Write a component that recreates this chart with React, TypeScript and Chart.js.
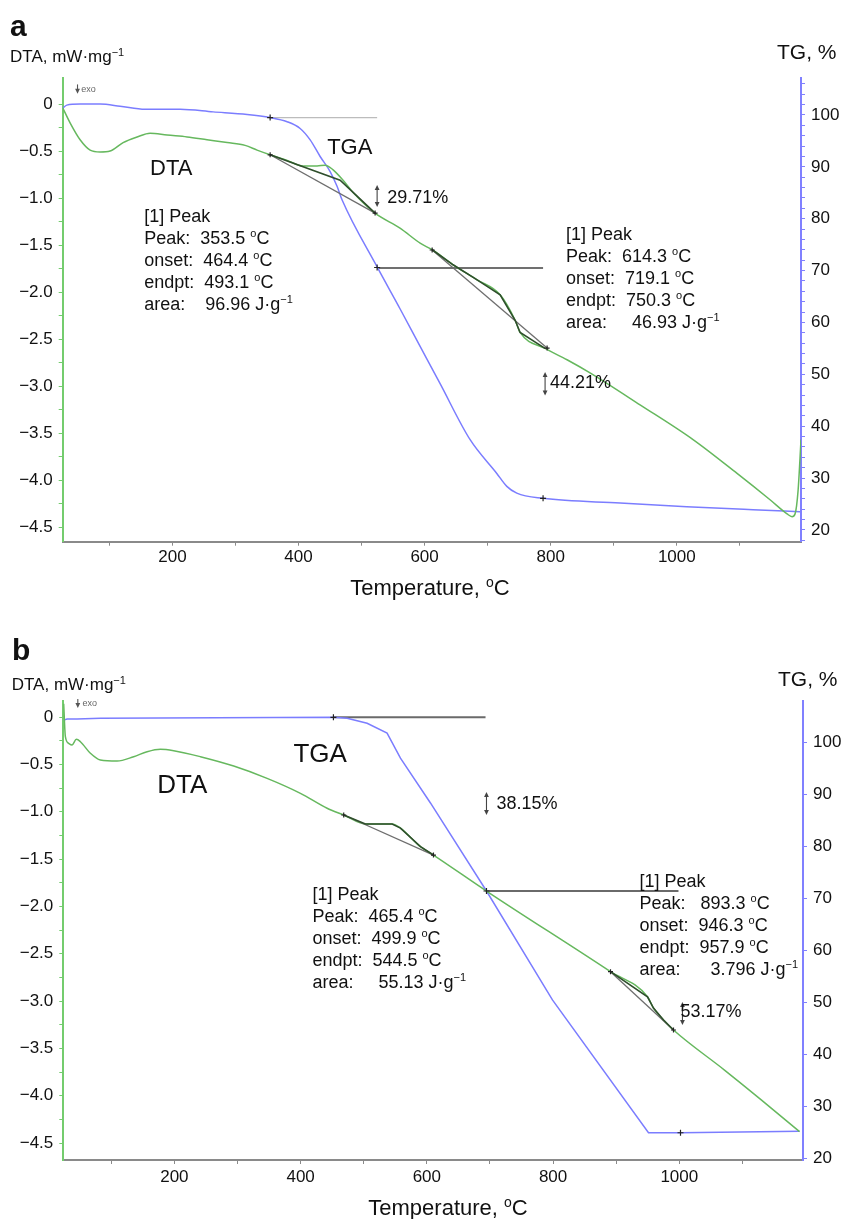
import React, { useEffect, useRef } from "react";
import { Chart, registerables } from "chart.js";
Chart.register(...registerables);

const FONT = '"Liberation Sans", Arial, Helvetica, sans-serif';
const GREEN_LINE = "#66b85e";
const GREEN_AXIS = "#74cc6e";
const BLUE_LINE = "#7b7dff";
const BLUE_AXIS = "#8080ff";
const GRAY_AXIS = "#8a8a8a";
const DARK_PEAK = "#2f4f2c";
const BASE_LINE = "#6e6e6e";
const TEXT = "#111";

// ---------- shared tick lists
const tempTicks = [100, 200, 300, 400, 500, 600, 700, 800, 900, 1000, 1100];
const tempLabels = [200, 400, 600, 800, 1000];
const dtaTicks = [0, -0.25, -0.5, -0.75, -1, -1.25, -1.5, -1.75, -2, -2.25, -2.5, -2.75, -3, -3.25, -3.5, -3.75, -4, -4.25, -4.5];
const dtaLabels = [0, -0.5, -1, -1.5, -2, -2.5, -3, -3.5, -4, -4.5];
const tgTicksA = [18, 20, 22, 24, 26, 28, 30, 32, 34, 36, 38, 40, 42, 44, 46, 48, 50, 52, 54, 56, 58, 60, 62, 64, 66, 68, 70, 72, 74, 76, 78, 80, 82, 84, 86, 88, 90, 92, 94, 96, 98, 100, 102, 104, 106];
const tgTicksB = [20, 30, 40, 50, 60, 70, 80, 90, 100];
const tgLabels = [20, 30, 40, 50, 60, 70, 80, 90, 100];

// ---------- panel a : DTA curve
const tempA_dta = [26, 37.7, 53.6, 69.5, 85.3, 101.2, 121.8, 144, 164.6, 191.6, 223.3, 255, 286.8, 315.3, 334.3, 355, 382, 407.3, 429.5, 442.2, 454.9, 470.7, 486.6, 521.5, 561, 592.9, 612, 645.2, 683.3, 719.8, 743.6, 751.5, 791, 825.9, 862.4, 941.7, 1025.8, 1095.6, 1147.9, 1174.9, 1182.8, 1187.6, 1192.4, 1195.5, 1197];
const dtaA = [-0.04, -0.2, -0.38, -0.49, -0.51, -0.5, -0.41, -0.35, -0.31, -0.33, -0.35, -0.38, -0.41, -0.44, -0.49, -0.54, -0.6, -0.66, -0.66, -0.65, -0.7, -0.81, -0.94, -1.16, -1.32, -1.48, -1.55, -1.71, -1.87, -2.03, -2.3, -2.43, -2.6, -2.72, -2.86, -3.2, -3.57, -3.93, -4.21, -4.36, -4.39, -4.36, -4.11, -3.76, -3.57];
// panel a : TG curve
const tempA_tg = [26, 32.5, 53.6, 85.3, 117, 156.7, 212.2, 264.6, 318.5, 355, 382, 402.6, 418.5, 434.3, 450.2, 461.3, 469.2, 524.7, 561.2, 592.9, 624.6, 672.2, 714.5, 730.4, 746.2, 787.9, 910, 1015.8, 1121, 1195.5];
const tgA = [101.3, 101.9, 102.1, 102.1, 101.7, 101.1, 101.1, 100.6, 100.1, 99.5, 98.7, 97.4, 95.2, 92.0, 89.1, 86.2, 83.6, 70.7, 62.6, 55.4, 48.2, 37.4, 30.9, 28.4, 27.1, 26.1, 25.2, 24.5, 23.9, 23.5];
// panel a : peak baselines and peak segments
const peakA1_baseT = [355, 521.5];
const peakA1_baseV = [-0.54, -1.16];
const peakA1_darkT = [355, 466, 486.6, 521.5];
const peakA1_darkV = [-0.54, -0.81, -0.94, -1.16];
const peakA2_baseT = [612, 794.3];
const peakA2_baseV = [-1.553, -2.596];
const peakA2_darkT = [612, 645.2, 683.3, 719.8, 743.6, 751.5, 791];
const peakA2_darkV = [-1.55, -1.71, -1.87, -2.03, -2.3, -2.43, -2.6];
// panel a : TG step levels
const stepA1_T = [355, 524.7];
const stepA1_V = [99.5, 99.5];
const stepA2_T = [524.7, 787.9];
const stepA2_V = [70.5, 70.5];
const tgMarkA_T = [355, 524.7, 787.9];
const tgMarkA_V = [99.5, 70.6, 26.1];
const dtaMarkA_T = [355, 521.5, 612, 794.3];
const dtaMarkA_V = [-0.54, -1.16, -1.553, -2.596];

// ---------- panel b : DTA curve
const tempB_dta = [24.6, 27.3, 32.5, 37.9, 44.7, 51.1, 66.9, 82.7, 109.2, 135.5, 156.7, 177.8, 198.9, 241.2, 294, 346.9, 399.7, 442, 468.3, 502.7, 545, 558.2, 589.9, 610.5, 694.5, 891, 949.6, 959.1, 975, 990.8, 1071.6, 1130.3, 1190.5];
const dtaB = [0.14, -0.208, -0.278, -0.296, -0.236, -0.261, -0.383, -0.454, -0.465, -0.419, -0.367, -0.341, -0.356, -0.419, -0.518, -0.648, -0.806, -0.964, -1.035, -1.13, -1.13, -1.173, -1.37, -1.458, -1.838, -2.69, -2.955, -3.074, -3.2, -3.306, -3.729, -4.046, -4.38];
// panel b : TG curve
const tempB_tg = [24.6, 30, 45.8, 82.7, 452, 473.7, 505.4, 537, 558.2, 605.7, 694.5, 799, 951.2, 1001.9, 1190.5];
const tgB = [104.2, 104.4, 104.4, 104.55, 104.74, 104.55, 103.6, 101.7, 96.9, 88.3, 71.4, 50.5, 25.0, 25.0, 25.3];
// panel b : peak baselines and peak segments
const peakB1_baseT = [468.3, 610.5];
const peakB1_baseV = [-1.035, -1.458];
const peakB1_darkT = [468.3, 502.7, 545, 558.2, 589.9, 610.5];
const peakB1_darkV = [-1.035, -1.13, -1.13, -1.173, -1.37, -1.458];
const peakB2_baseT = [891, 990.8];
const peakB2_baseV = [-2.69, -3.306];
const peakB2_darkT = [891, 949.6, 959.1, 975, 990.8];
const peakB2_darkV = [-2.69, -2.955, -3.074, -3.2, -3.306];
// panel b : TG step levels
const stepB1_T = [452, 693];
const stepB1_V = [104.74, 104.74];
const stepB2_T = [694.5, 998.7];
const stepB2_V = [71.4, 71.4];
const tgMarkB_T = [452, 694.5, 1001.9];
const tgMarkB_V = [104.74, 71.4, 25.0];
const dtaMarkB_T = [468.3, 610.5, 891, 990.8];
const dtaMarkB_V = [-1.035, -1.458, -2.69, -3.306];

// ---------- annotation texts
const peakTextA1 = ["[1] Peak", "Peak:  353.5 ^{o}C", "onset:  464.4 ^{o}C", "endpt:  493.1 ^{o}C", "area:    96.96 J\u00b7g^{\u22121}"];
const peakTextA2 = ["[1] Peak", "Peak:  614.3 ^{o}C", "onset:  719.1 ^{o}C", "endpt:  750.3 ^{o}C", "area:     46.93 J\u00b7g^{\u22121}"];
const peakTextB1 = ["[1] Peak", "Peak:  465.4 ^{o}C", "onset:  499.9 ^{o}C", "endpt:  544.5 ^{o}C", "area:     55.13 J\u00b7g^{\u22121}"];
const peakTextB2 = ["[1] Peak", "Peak:   893.3 ^{o}C", "onset:  946.3 ^{o}C", "endpt:  957.9 ^{o}C", "area:      3.796 J\u00b7g^{\u22121}"];
const massLossA = ["29.71%", "44.21%"];
const massLossB = ["38.15%", "53.17%"];

function pts(xs: number[], ys: number[]) {
  return xs.map((x, i) => ({ x, y: ys[i] }));
}

function drawRich(ctx: CanvasRenderingContext2D, text: string, x: number, y: number, size: number, align: string = "left", weight: string = "normal", color: string = TEXT) {
  const parts: { t: string; sup: boolean }[] = [];
  const re = /\^\{([^}]*)\}/g;
  let last = 0;
  let m: RegExpExecArray | null;
  while ((m = re.exec(text)) !== null) {
    if (m.index > last) parts.push({ t: text.slice(last, m.index), sup: false });
    parts.push({ t: m[1], sup: true });
    last = re.lastIndex;
  }
  if (last < text.length) parts.push({ t: text.slice(last), sup: false });
  const fN = `${weight} ${size}px ${FONT}`;
  const fS = `${weight} ${Math.round(size * 0.62)}px ${FONT}`;
  let w = 0;
  for (const p of parts) {
    ctx.font = p.sup ? fS : fN;
    w += ctx.measureText(p.t).width;
  }
  let cx = align === "center" ? x - w / 2 : x;
  ctx.textAlign = "left";
  ctx.textBaseline = "alphabetic";
  ctx.fillStyle = color;
  for (const p of parts) {
    ctx.font = p.sup ? fS : fN;
    ctx.fillText(p.t, cx, p.sup ? y - size * 0.36 : y);
    cx += ctx.measureText(p.t).width;
  }
}

function vArrow(ctx: CanvasRenderingContext2D, x: number, yTop: number, yBot: number, both: boolean, color: string = "#444") {
  ctx.strokeStyle = color;
  ctx.fillStyle = color;
  ctx.lineWidth = 1.1;
  ctx.beginPath();
  ctx.moveTo(x, yTop + 2);
  ctx.lineTo(x, yBot - 2);
  ctx.stroke();
  const h = 5;
  const w = 2.4;
  if (both) {
    ctx.beginPath();
    ctx.moveTo(x, yTop);
    ctx.lineTo(x - w, yTop + h);
    ctx.lineTo(x + w, yTop + h);
    ctx.closePath();
    ctx.fill();
  }
  ctx.beginPath();
  ctx.moveTo(x, yBot);
  ctx.lineTo(x - w, yBot - h);
  ctx.lineTo(x + w, yBot - h);
  ctx.closePath();
  ctx.fill();
}

const panelSpecs: any[] = [
  {
    key: "a", top: 0, height: 605, padTop: 78, leftW: 62.7, rightW: 40, xAxisH: 63.3, xPad: 1,
    tMin: 26, tMax: 1197, dMin: -4.656, dMax: 0.277, gMin: 17.74, gMax: 107.13,
    tgTicks: tgTicksA,
    dta: pts(tempA_dta, dtaA), tg: pts(tempA_tg, tgA), tgSmooth: true,
    bases: [pts(peakA1_baseT, peakA1_baseV), pts(peakA2_baseT, peakA2_baseV)],
    darks: [pts(peakA1_darkT, peakA1_darkV), pts(peakA2_darkT, peakA2_darkV)],
    steps: [
      { data: pts(stepA1_T, stepA1_V), color: "#bcbcbc", width: 1.2 },
      { data: pts(stepA2_T, stepA2_V), color: "#707070", width: 2 },
    ],
    tgMarks: pts(tgMarkA_T, tgMarkA_V), dtaMarks: pts(dtaMarkA_T, dtaMarkA_V),
    letter: "a", letterPos: [10, 36],
    yTitlePos: [10, 61.7], tgTitlePos: [777, 58.5], xTitlePos: [430, 595],
    curveSize: 22,
    curveLabels: [{ text: "DTA", t: 164.6, v: -0.755 }, { text: "TGA", t: 445.4, v: -0.532 }],
    peaks: [{ lines: peakTextA1, t: 155.3, v: -1.181 }, { lines: peakTextA2, t: 824.3, v: -1.376 }],
    arrows: [{ t: 524.7, v1: -0.862, v2: -1.096 }, { t: 791.1, v1: -2.85, v2: -3.1 }],
    losses: [{ text: massLossA[0], t: 540.6, v: -0.979 }, { text: massLossA[1], t: 799, v: -2.957 }],
    exo: { t: 49.5, v1: 0.23, v2: 0.11, tt: 55.5, tv: 0.17 },
  },
  {
    key: "b", top: 605, height: 614, padTop: 96, leftW: 63.3, rightW: 38, xAxisH: 59, xPad: 3,
    tMin: 24, tMax: 1196, dMin: -4.679, dMax: 0.169, gMin: 19.77, gMax: 107.87,
    tgTicks: tgTicksB,
    dta: pts(tempB_dta, dtaB), tg: pts(tempB_tg, tgB), tgSmooth: false,
    bases: [pts(peakB1_baseT, peakB1_baseV), pts(peakB2_baseT, peakB2_baseV)],
    darks: [pts(peakB1_darkT, peakB1_darkV), pts(peakB2_darkT, peakB2_darkV)],
    steps: [
      { data: pts(stepB1_T, stepB1_V), color: "#6a6a6a", width: 2 },
      { data: pts(stepB2_T, stepB2_V), color: "#6a6a6a", width: 2 },
    ],
    tgMarks: pts(tgMarkB_T, tgMarkB_V), dtaMarks: pts(dtaMarkB_T, dtaMarkB_V),
    letter: "b", letterPos: [12, 55],
    yTitlePos: [11.7, 85], tgTitlePos: [778, 81], xTitlePos: [448, 610],
    curveSize: 26,
    curveLabels: [{ text: "DTA", t: 173, v: -0.803 }, { text: "TGA", t: 388.6, v: -0.475 }],
    peaks: [{ lines: peakTextB1, t: 418.7, v: -1.862 }, { lines: peakTextB2, t: 936.9, v: -1.722 }],
    arrows: [{ t: 694.5, v1: -0.792, v2: -1.035 }, { t: 1005, v1: -3.01, v2: -3.253 }],
    losses: [{ text: massLossB[0], t: 710.3, v: -0.898 }, { text: massLossB[1], t: 1001.9, v: -3.095 }],
    exo: { t: 47, v1: 0.21, v2: 0.095, tt: 54.5, tv: 0.15 },
  },
];

function annotPlugin(spec: any) {
  return {
    id: "annot_" + spec.key,
    afterDraw(chart: any) {
      const ctx: CanvasRenderingContext2D = chart.ctx;
      const X = chart.scales.x;
      const Y = chart.scales.yL;
      const px = (t: number) => X.getPixelForValue(t);
      const py = (v: number) => Y.getPixelForValue(v);
      ctx.save();
      // panel letter and axis titles
      drawRich(ctx, spec.letter, spec.letterPos[0], spec.letterPos[1], 30, "left", "bold");
      drawRich(ctx, "DTA, mW\u00b7mg^{\u22121}", spec.yTitlePos[0], spec.yTitlePos[1], 17);
      drawRich(ctx, "TG, %", spec.tgTitlePos[0], spec.tgTitlePos[1], 21);
      drawRich(ctx, "Temperature, ^{o}C", spec.xTitlePos[0], spec.xTitlePos[1], 22, "center");
      // curve names
      for (const c of spec.curveLabels) drawRich(ctx, c.text, px(c.t), py(c.v), spec.curveSize);
      // peak result blocks
      for (const p of spec.peaks) {
        const x0 = px(p.t);
        const y0 = py(p.v);
        p.lines.forEach((ln: string, i: number) => drawRich(ctx, ln, x0, y0 + i * 22 + 6.5, 18));
      }
      // mass loss arrows + labels
      for (const a of spec.arrows) vArrow(ctx, px(a.t), py(a.v1), py(a.v2), true);
      for (const l of spec.losses) drawRich(ctx, l.text, px(l.t), py(l.v) + 6.5, 18);
      // exo marker
      const e = spec.exo;
      vArrow(ctx, px(e.t), py(e.v1), py(e.v2), false, "#555");
      drawRich(ctx, "exo", px(e.tt), py(e.tv) + 3.5, 9, "left", "normal", "#666");
      ctx.restore();
    },
  };
}

function nearIn(list: number[], v: number) {
  return list.some((l) => Math.abs(l - v) < 1e-9);
}

function buildConfig(spec: any): any {
  const lineDs = (data: any[], color: string, width: number, order: number, yAxisID: string, smooth: boolean) => ({
    data, yAxisID, borderColor: color, borderWidth: width, pointRadius: 0, order,
    fill: false, tension: 0, cubicInterpolationMode: smooth ? "monotone" : "default",
  });
  const datasets: any[] = [
    {
      data: spec.tgMarks, yAxisID: "yR", showLine: false, pointStyle: "cross", pointRadius: 3,
      pointBorderColor: "#222", pointBorderWidth: 1.2, order: 0,
    },
    {
      data: spec.dtaMarks, yAxisID: "yL", showLine: false, pointStyle: "cross", pointRadius: 2.5,
      pointBorderColor: "#222", pointBorderWidth: 1.2, order: 0,
    },
    ...spec.darks.map((d: any[]) => lineDs(d, DARK_PEAK, 1.6, 1, "yL", false)),
    ...spec.bases.map((d: any[]) => lineDs(d, BASE_LINE, 1.3, 2, "yL", false)),
    lineDs(spec.dta, GREEN_LINE, 1.5, 3, "yL", true),
    lineDs(spec.tg, BLUE_LINE, 1.5, 3, "yR", spec.tgSmooth),
    ...spec.steps.map((s: any) => lineDs(s.data, s.color, s.width, 4, "yR", false)),
  ];
  const tickFont = { family: FONT, size: 17 };
  return {
    type: "line",
    data: { datasets },
    options: {
      responsive: false,
      animation: false,
      devicePixelRatio: 1,
      events: [],
      layout: { autoPadding: false, padding: { top: spec.padTop, left: 0, right: 0, bottom: 0 } },
      plugins: { legend: { display: false }, tooltip: { enabled: false }, title: { display: false } },
      scales: {
        x: {
          type: "linear", position: "bottom", min: spec.tMin, max: spec.tMax,
          afterBuildTicks: (s: any) => { s.ticks = tempTicks.map((v) => ({ value: v })); },
          afterFit: (s: any) => { s.height = spec.xAxisH; },
          ticks: {
            autoSkip: false, maxRotation: 0, font: tickFont, color: TEXT, padding: spec.xPad,
            callback: (v: any) => (nearIn(tempLabels, Number(v)) ? String(v) : ""),
          },
          grid: { display: true, drawOnChartArea: false, drawTicks: true, tickLength: 4, tickColor: GRAY_AXIS, tickWidth: 1 },
          border: { display: true, color: GRAY_AXIS, width: 2 },
        },
        yL: {
          type: "linear", position: "left", min: spec.dMin, max: spec.dMax,
          afterBuildTicks: (s: any) => { s.ticks = dtaTicks.map((v) => ({ value: v })); },
          afterFit: (s: any) => { s.width = spec.leftW; },
          ticks: {
            autoSkip: false, font: tickFont, color: TEXT, padding: 6,
            callback: (v: any) => {
              const n = Number(v);
              if (!nearIn(dtaLabels, n)) return "";
              if (Math.abs(n) < 1e-9) return "0";
              return (n < 0 ? "\u2212" : "") + Math.abs(n).toFixed(1);
            },
          },
          grid: { display: true, drawOnChartArea: false, drawTicks: true, tickLength: 4, tickColor: GREEN_AXIS, tickWidth: 1 },
          border: { display: true, color: GREEN_AXIS, width: 2 },
        },
        yR: {
          type: "linear", position: "right", min: spec.gMin, max: spec.gMax,
          afterBuildTicks: (s: any) => { s.ticks = spec.tgTicks.map((v: number) => ({ value: v })); },
          afterFit: (s: any) => { s.width = spec.rightW; },
          ticks: {
            autoSkip: false, font: tickFont, color: TEXT, padding: 6,
            callback: (v: any) => (nearIn(tgLabels, Number(v)) ? String(v) : ""),
          },
          grid: { display: true, drawOnChartArea: false, drawTicks: true, tickLength: 4, tickColor: BLUE_AXIS, tickWidth: 1 },
          border: { display: true, color: BLUE_AXIS, width: 2 },
        },
      },
    },
    plugins: [annotPlugin(spec)],
  };
}

function Panel({ spec }: { spec: any }) {
  const ref = useRef<HTMLCanvasElement>(null);
  useEffect(() => {
    if (!ref.current) return;
    const chart = new Chart(ref.current, buildConfig(spec));
    return () => chart.destroy();
  }, [spec]);
  return (
    <canvas
      ref={ref}
      width={841}
      height={spec.height}
      style={{ position: "absolute", left: 0, top: spec.top, width: 841, height: spec.height, display: "block" }}
    />
  );
}

export default function App() {
  return (
    <div style={{ position: "absolute", left: 0, top: 0, width: 841, height: 1219, background: "#fff" }}>
      {panelSpecs.map((s) => (
        <Panel key={s.key} spec={s} />
      ))}
    </div>
  );
}
